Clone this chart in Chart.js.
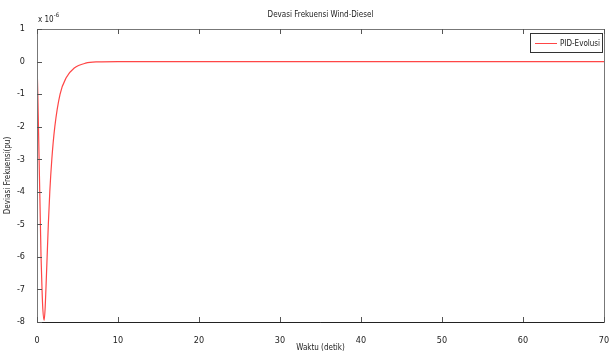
<!DOCTYPE html>
<html>
<head>
<meta charset="utf-8">
<script src="https://cdn.jsdelivr.net/npm/chart.js@4/dist/chart.umd.min.js"></script>
<style>
  body { margin: 0; background: #fff; }
  #wrap { width: 610px; height: 354px; }
</style>
</head>
<body>
<div id="wrap"><canvas id="deviasi-chart" width="610" height="354"></canvas></div>
<script>
// waktu (detik) dan deviasi frekuensi (x 10^-6 pu)
const waktu = [0, 0.1, 0.18, 0.26, 0.34, 0.42, 0.5, 0.62, 0.72, 0.88, 1.0, 1.1, 1.25, 1.4, 1.58, 1.83, 2.2, 2.85, 3.6, 4.6, 6.0, 7.5, 10, 20, 30, 40, 50, 60, 70];
const deviasi = [0, -1, -2, -3, -4, -5, -6, -7, -7.6, -7.95, -7.6, -7, -6, -5, -4, -3, -2, -1, -0.5, -0.2, -0.05, -0.01, 0, 0, 0, 0, 0, 0, 0];
const xTicks = [0, 10, 20, 30, 40, 50, 60, 70];
const yTicks = [-8, -7, -6, -5, -4, -3, -2, -1, 0, 1];

const FONT = "'DejaVu Sans Condensed', 'Liberation Sans', Arial, sans-serif";
const TEXT = "#222";

// kotak sumbu + tick ke dalam (gaya MATLAB)
const axesBox = {
  id: "axesBox",
  afterDatasetsDraw(chart) {
    const { ctx, chartArea: a, scales } = chart;
    ctx.save();
    ctx.lineWidth = 1;
    ctx.strokeStyle = "#777";
    ctx.strokeRect(Math.round(a.left) + 0.5, Math.round(a.top) + 0.5,
      Math.round(a.right - a.left), Math.round(a.bottom - a.top));
    ctx.strokeStyle = "#222";
    ctx.beginPath();
    ctx.moveTo(a.left, Math.round(a.bottom) + 0.5);
    ctx.lineTo(a.right, Math.round(a.bottom) + 0.5);
    ctx.stroke();

    ctx.strokeStyle = "#555";
    ctx.beginPath();
    xTicks.forEach((v) => {
      const px = Math.round(scales.x.getPixelForValue(v)) + 0.5;
      ctx.moveTo(px, a.bottom); ctx.lineTo(px, a.bottom - 5);
      ctx.moveTo(px, a.top); ctx.lineTo(px, a.top + 5);
    });
    yTicks.forEach((v) => {
      const py = Math.round(scales.y.getPixelForValue(v)) + 0.5;
      ctx.moveTo(a.left, py); ctx.lineTo(a.left + 5, py);
    });
    ctx.stroke();

    // faktor skala "x 10^-6"
    ctx.fillStyle = TEXT;
    ctx.textBaseline = "alphabetic";
    ctx.textAlign = "left";
    ctx.font = "8px " + FONT;
    ctx.fillText("x 10", a.left + 1, a.top - 7);
    const w = ctx.measureText("x 10").width;
    ctx.font = "6px " + FONT;
    ctx.fillText("-6", a.left + 1 + w, a.top - 12);

    // legenda
    const ds = chart.data.datasets[0];
    const bx = a.right - 74, by = a.top + 4, bw = 72, bh = 19;
    ctx.fillStyle = "#fff";
    ctx.fillRect(bx, by, bw, bh);
    ctx.strokeStyle = "#333";
    ctx.strokeRect(Math.round(bx) + 0.5, Math.round(by) + 0.5, bw, bh);
    ctx.strokeStyle = ds.borderColor;
    ctx.beginPath();
    ctx.moveTo(bx + 5, Math.round(by + bh / 2) + 0.5);
    ctx.lineTo(bx + 27, Math.round(by + bh / 2) + 0.5);
    ctx.stroke();
    ctx.fillStyle = TEXT;
    ctx.font = "8px " + FONT;
    ctx.textBaseline = "middle";
    ctx.fillText(ds.label, bx + 30, by + bh / 2 + 1);
    ctx.restore();
  },
};

const ctx = document.getElementById("deviasi-chart").getContext("2d");
const chart = new Chart(ctx, {
  type: "line",
  data: {
    datasets: [
      {
        label: "PID-Evolusi",
        data: waktu.map((t, i) => ({ x: t, y: deviasi[i] })),
        borderColor: "rgb(255, 70, 70)",
        borderWidth: 1.2,
        pointRadius: 0,
        cubicInterpolationMode: "monotone",
        fill: false,
      },
    ],
  },
  options: {
    responsive: false,
    animation: false,
    layout: { padding: { left: 0, right: 6, top: 0, bottom: 0 } },
    plugins: {
      legend: { display: false },
      tooltip: { enabled: false },
      title: {
        display: true,
        fullSize: false,
        text: "Devasi Frekuensi Wind-Diesel",
        color: TEXT,
        font: { family: FONT, size: 8, weight: "normal" },
        padding: { top: 10, bottom: 9.4 },
      },
    },
    scales: {
      x: {
        type: "linear",
        min: 0,
        max: 70,
        afterBuildTicks: (s) => { s.ticks = xTicks.map((v) => ({ value: v })); },
        afterFit: (s) => { s.height = 32; s.paddingRight = 0; s.paddingLeft = 0; },
        grid: { display: false },
        border: { display: false },
        ticks: { color: TEXT, padding: 5, font: { family: FONT, size: 9 } },
        title: {
          display: true,
          text: "Waktu (detik)",
          color: TEXT,
          font: { family: FONT, size: 8 },
          padding: { top: 0, bottom: 1 },
        },
      },
      y: {
        min: -8,
        max: 1,
        afterBuildTicks: (s) => { s.ticks = yTicks.map((v) => ({ value: v })); },
        afterFit: (s) => { s.width = 37; },
        grid: { display: false },
        border: { display: false },
        ticks: { color: TEXT, padding: 4, font: { family: FONT, size: 9 } },
        title: {
          display: true,
          text: "Deviasi Frekuensi(pu)",
          color: TEXT,
          font: { family: FONT, size: 8 },
          padding: { top: 3, bottom: 0 },
        },
      },
    },
  },
  plugins: [axesBox],
});
</script>
</body>
</html>
